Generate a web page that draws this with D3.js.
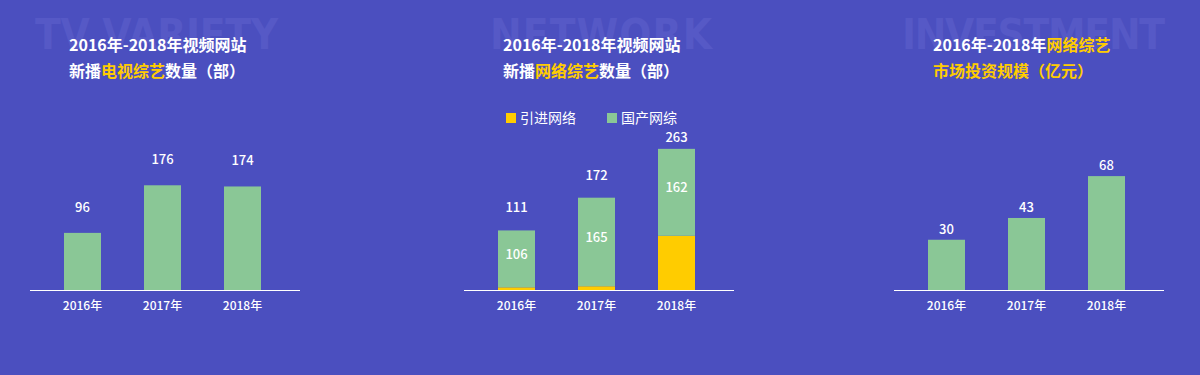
<!DOCTYPE html>
<html><head><meta charset="utf-8">
<script src="https://cdn.jsdelivr.net/npm/d3@7/dist/d3.min.js"></script>
<style>
html,body{margin:0;padding:0;background:#4b4fbf;}
svg{display:block;}
text{font-family:"Noto Sans CJK SC","Noto Sans",sans-serif;}
</style></head>
<body>
<svg id="c" width="1200" height="375"></svg>
<script>
// ---- data ----
const years = ["2016年","2017年","2018年"];
const tvVariety = [96, 176, 174];
const netImported = [5, 7, 101];
const netDomestic = [106, 165, 162];
const netTotal = [111, 172, 263];
const investment = [30, 43, 68];
const legendLabels = ["引进网络","国产网综"];
const watermarks = ["TV VARIETY","NETWORK","INVESTMENT"];
const titles = [
  [[["2016年-2018年视频网站",0]],[["新播",0],["电视综艺",1],["数量（部）",0]]],
  [[["2016年-2018年视频网站",0]],[["新播",0],["网络综艺",1],["数量（部）",0]]],
  [[["2016年-2018年",0],["网络综艺",1]],[["市场投资规模（亿元）",1]]]
];

const BG="#4b4fbf", GREEN="#8ac796", YELLOW="#ffcc00", WM="#5659c6";
const svg=d3.select("#c");
svg.append("rect").attr("width",1200).attr("height",375).attr("fill",BG);

const panels=[
  {x0:30, titleX:69, wm:[35,278], dom:200, rng:119},
  {x0:464, titleX:503, wm:[490,712], dom:300, rng:161},
  {x0:894, titleX:933, wm:[902,1165], dom:80, rng:134}
];
const baseY=290;

panels.forEach((p,i)=>{
  const g=svg.append("g");
  // watermark
  g.append("text").attr("x",p.wm[0]).attr("y",49)
    .attr("textLength",p.wm[1]-p.wm[0]).attr("lengthAdjust","spacing")
    .attr("font-size",42).attr("font-weight",700).attr("fill",WM)
    .style("font-family","'DejaVu Sans Condensed','DejaVu Sans',sans-serif")
    .style("font-stretch","condensed")
    .text(watermarks[i]);
  // titles
  titles[i].forEach((line,li)=>{
    const t=g.append("text").attr("x",p.titleX).attr("y",51+li*26)
      .attr("font-size",16).attr("font-weight",700).attr("fill","#fff");
    line.forEach(([s,h])=>t.append("tspan").attr("fill",h?YELLOW:"#fff").text(s));
  });
  const x=d3.scaleBand().domain(years).range([p.x0+12.5,p.x0+252.5])
    .paddingInner(0.5375).paddingOuter(0.26875);
  const y=d3.scaleLinear().domain([0,p.dom]).range([baseY,baseY-p.rng]);
  p.x=x; p.y=y; p.g=g;
  // axis labels
  const ax=g.append("g").attr("transform",`translate(0,${baseY})`)
    .call(d3.axisBottom(x).tickSize(0).tickPadding(11));
  ax.select(".domain").remove();
  ax.selectAll("text").attr("font-size",12).attr("font-weight",500).attr("fill","#fff")
    .style("font-family","'Noto Sans CJK SC',sans-serif");
});

function valText(sel){
  return sel.attr("text-anchor","middle").attr("font-size",13).attr("font-weight",500).attr("fill","#fff");
}

// panel 1
(function(){
  const p=panels[0];
  p.g.selectAll("rect.bar").data(tvVariety).join("rect")
    .attr("x",(d,i)=>p.x(years[i])).attr("width",p.x.bandwidth())
    .attr("y",d=>p.y(d)).attr("height",d=>baseY-p.y(d)).attr("fill",GREEN);
  valText(p.g.selectAll("text.v").data(tvVariety).join("text").attr("class","v")
    .attr("x",(d,i)=>p.x(years[i])+p.x.bandwidth()/2).attr("y",d=>p.y(d)-21)).text(d=>d);
})();

// panel 2 stacked
(function(){
  const p=panels[1];
  const rows=years.map((yr,i)=>({yr,imp:netImported[i],dom:netDomestic[i],tot:netTotal[i]}));
  const stack=d3.stack().keys(["imp","dom"])(rows);
  const cols=[YELLOW,GREEN];
  stack.forEach((s,k)=>{
    p.g.append("g").selectAll("rect").data(s).join("rect")
      .attr("x",d=>p.x(d.data.yr)).attr("width",p.x.bandwidth())
      .attr("y",d=>p.y(d[1])).attr("height",d=>p.y(d[0])-p.y(d[1])).attr("fill",cols[k]);
  });
  valText(p.g.selectAll("text.in").data(stack[1]).join("text").attr("class","in")
    .attr("x",d=>p.x(d.data.yr)+p.x.bandwidth()/2)
    .attr("y",d=>(p.y(d[0])+p.y(d[1]))/2)).text(d=>d.data.dom);
  valText(p.g.selectAll("text.tot").data(rows).join("text").attr("class","tot")
    .attr("x",d=>p.x(d.yr)+p.x.bandwidth()/2)
    .attr("y",d=>Math.max(p.y(d.tot)-18,142))).text(d=>d.tot);
  // legend
  const lx=[506,607];
  legendLabels.forEach((l,k)=>{
    p.g.append("rect").attr("x",lx[k]).attr("y",113).attr("width",10).attr("height",10).attr("fill",cols[k]);
    p.g.append("text").attr("x",lx[k]+14).attr("y",123).attr("font-size",14).attr("fill","#fff").text(l);
  });
})();

// panel 3
(function(){
  const p=panels[2];
  p.g.selectAll("rect.bar").data(investment).join("rect")
    .attr("x",(d,i)=>p.x(years[i])).attr("width",p.x.bandwidth())
    .attr("y",d=>p.y(d)).attr("height",d=>baseY-p.y(d)).attr("fill",GREEN);
  valText(p.g.selectAll("text.v").data(investment).join("text").attr("class","v")
    .attr("x",(d,i)=>p.x(years[i])+p.x.bandwidth()/2).attr("y",d=>p.y(d)-6)).text(d=>d);
})();

// baselines
panels.forEach(p=>{
  p.g.append("line").attr("x1",p.x0).attr("x2",p.x0+270).attr("y1",baseY+0.5).attr("y2",baseY+0.5)
    .attr("stroke","#fff").attr("stroke-width",1);
});
</script>
</body></html>
